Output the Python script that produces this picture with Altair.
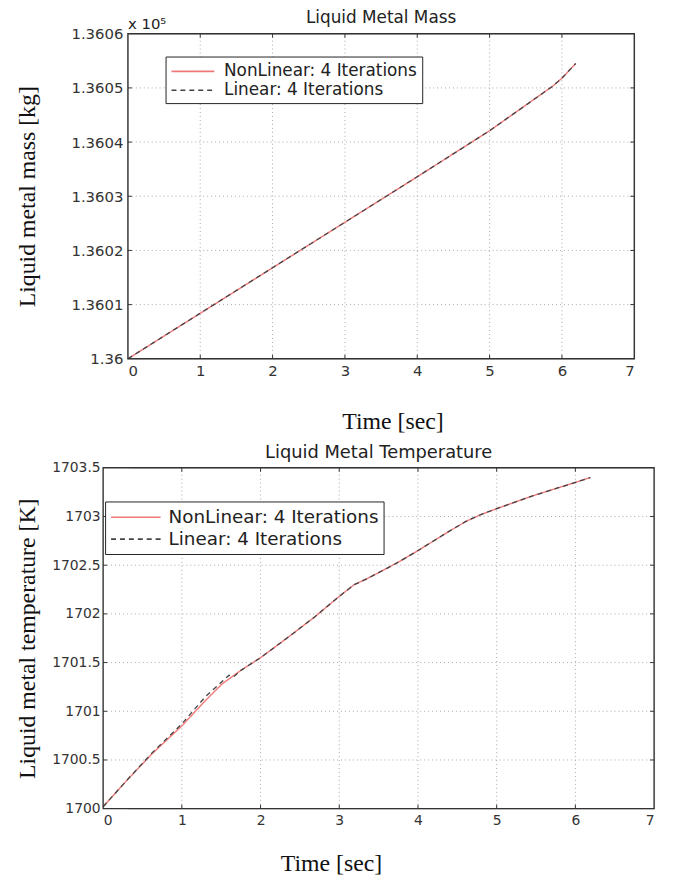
import altair as alt
import pandas as pd

series_names = ["NonLinear: 4 Iterations", "Linear: 4 Iterations"]
series_colors = ["#f07878", "#444444"]

# ---- Liquid metal mass (values in units of 10^5 kg) ----
mass_time = [0, 1, 2, 3, 4, 5, 5.87, 6.0, 6.19]
mass_nonlinear = [1.36000, 1.360084, 1.360168, 1.360252, 1.360336, 1.360421,
                  1.360503, 1.360518, 1.360545]
mass_linear = [1.36000, 1.360084, 1.360168, 1.360252, 1.360336, 1.360421,
               1.360503, 1.360518, 1.360545]
mass_ticks = [1.36, 1.3601, 1.3602, 1.3603, 1.3604, 1.3605, 1.3606]

# ---- Liquid metal temperature [K] ----
temp_time_nl = [0, 0.3, 0.63, 1.0, 1.3, 1.51, 1.75, 2.0, 2.35, 2.69, 3.0, 3.19,
                3.35, 3.61, 3.77, 4.0, 4.4, 4.61, 4.8, 5.0, 5.45, 6.0, 6.19]
temp_nonlinear = [1700.02, 1700.29, 1700.57, 1700.85, 1701.11, 1701.28, 1701.42,
                  1701.55, 1701.76, 1701.97, 1702.18, 1702.30, 1702.36, 1702.47,
                  1702.54, 1702.65, 1702.85, 1702.95, 1703.02, 1703.08, 1703.21,
                  1703.35, 1703.40]
temp_time_lin = [0, 0.3, 0.63, 1.0, 1.3, 1.6, 1.66, 1.75, 2.0, 2.35, 2.69, 3.0, 3.19,
                 3.35, 3.61, 3.77, 4.0, 4.4, 4.61, 4.8, 5.0, 5.45, 6.0, 6.19]
temp_linear = [1700.02, 1700.29, 1700.58, 1700.87, 1701.15, 1701.37, 1701.355, 1701.42,
               1701.55, 1701.76, 1701.97, 1702.18, 1702.30, 1702.36, 1702.47,
               1702.54, 1702.65, 1702.85, 1702.95, 1703.02, 1703.08, 1703.21,
               1703.35, 1703.40]
temp_ticks = [1700, 1700.5, 1701, 1701.5, 1702, 1702.5, 1703, 1703.5]

time_ticks = [0, 1, 2, 3, 4, 5, 6, 7]

mass_df = pd.concat([
    pd.DataFrame({"t": mass_time, "v": mass_nonlinear, "series": series_names[0]}),
    pd.DataFrame({"t": mass_time, "v": mass_linear, "series": series_names[1]}),
])
temp_df = pd.concat([
    pd.DataFrame({"t": temp_time_nl, "v": temp_nonlinear, "series": series_names[0]}),
    pd.DataFrame({"t": temp_time_lin, "v": temp_linear, "series": series_names[1]}),
])

SANS = "DejaVu Sans"
SERIF = "Liberation Serif"
GRID = "#a8a8a8"
FRAME = "#333333"


def make_legend(lx, ly, font, unit, path, offset, rowpad):
    return alt.Legend(title=None, orient="none", legendX=lx, legendY=ly,
                      symbolType=path, symbolSize=unit * unit,
                      symbolStrokeWidth=1.6, labelFont=SANS, labelFontSize=font,
                      labelColor="#222", labelOffset=offset, labelLimit=500,
                      rowPadding=rowpad, padding=5, strokeColor="#222",
                      fillColor="white")


def panel(df, title, title_size, title_x, title_y, ytitle, ydomain, yticks, yfmt,
          width, x_range, height, tick_size, y_offset, ytitle_x, xtitle_x,
          xtitle_y, xtitle_size, legend, label_pad_y, extra=None):
    xaxis = alt.Axis(values=time_ticks, format="d", grid=False, tickSize=0,
                     labelPadding=5, labelFont=SANS, labelFontSize=tick_size,
                     labelColor="#333", domain=False, title="Time [sec]",
                     titleFont=SERIF, titleFontSize=xtitle_size,
                     titleFontWeight="normal", titleColor="#111", titleX=xtitle_x,
                     titleY=xtitle_y, titleAlign="center", titleBaseline="middle")
    yaxis = alt.Axis(values=yticks, format=yfmt, grid=False, tickSize=0,
                     offset=y_offset, labelPadding=label_pad_y, labelFont=SANS,
                     labelFontSize=tick_size, labelColor="#333", domain=False,
                     title=ytitle, titleFont=SERIF, titleFontSize=24,
                     titleFontWeight="normal", titleColor="#111", titleX=ytitle_x,
                     titleY=height / 2, titleAngle=270, titleAlign="center",
                     titleBaseline="middle")
    color = alt.Color("series:N",
                      scale=alt.Scale(domain=series_names, range=series_colors),
                      legend=legend)
    dash = alt.StrokeDash("series:N",
                          scale=alt.Scale(domain=series_names, range=[[1, 0], [5, 4]]),
                          legend=legend)
    xscale = alt.Scale(domain=[0, 7], nice=False, zero=False, range=x_range)
    yscale = alt.Scale(domain=ydomain, nice=False, zero=False)
    x = alt.X("t:Q", scale=xscale, axis=xaxis)
    y = alt.Y("v:Q", scale=yscale, axis=yaxis)
    x0, x1 = x_range

    inner_y = pd.DataFrame({"v": yticks[1:-1]})
    inner_x = pd.DataFrame({"t": time_ticks[1:-1]})

    # white cover for the cell edge when the plot frame is shifted left of it
    cover = alt.Chart(pd.DataFrame({"a": [0]})).mark_rule(
        color="white", strokeWidth=2.5
    ).encode(x=alt.value(0), y=alt.value(0), y2=alt.value(height))

    ygrid = alt.Chart(inner_y).mark_rule(
        color=GRID, strokeWidth=1, strokeDash=[1, 3]
    ).encode(y=y, x=alt.datum(0), x2=alt.datum(7))
    xgrid = alt.Chart(inner_x).mark_rule(
        color=GRID, strokeWidth=1, strokeDash=[1, 3]
    ).encode(x=x, y=alt.datum(ydomain[0]), y2=alt.datum(ydomain[1]))

    # short inward tick marks on all four sides
    tick_style = dict(color=FRAME, strokeWidth=1)
    xt_bottom = alt.Chart(inner_x).mark_rule(**tick_style).encode(
        x=x, y=alt.value(height), y2=alt.value(height - 4))
    xt_top = alt.Chart(inner_x).mark_rule(**tick_style).encode(
        x=x, y=alt.value(0), y2=alt.value(4))
    yt_left = alt.Chart(inner_y).mark_rule(**tick_style).encode(
        y=y, x=alt.value(x0), x2=alt.value(x0 + 4))
    yt_right = alt.Chart(inner_y).mark_rule(**tick_style).encode(
        y=y, x=alt.value(x1 - 4), x2=alt.value(x1))

    frame = alt.Chart(pd.DataFrame({"a": [0]})).mark_rect(
        fillOpacity=0, stroke=FRAME, strokeWidth=1.4
    ).encode(x=alt.datum(0), x2=alt.datum(7), y=alt.datum(ydomain[0]),
             y2=alt.datum(ydomain[1]))

    base = alt.Chart(df)
    red = base.transform_filter(alt.datum.series == series_names[0]).mark_line(
        strokeWidth=1.4).encode(x=x, y=y, color=color, strokeDash=dash)
    blk = base.transform_filter(alt.datum.series == series_names[1]).mark_line(
        strokeWidth=1.3).encode(x=x, y=y, color=color, strokeDash=dash)

    ttl = alt.Chart(pd.DataFrame({"txt": [title]})).mark_text(
        align="center", baseline="middle", font=SANS, fontSize=title_size,
        color="#222"
    ).encode(x=alt.value(title_x), y=alt.value(title_y), text="txt:N")

    layers = ([cover] if x0 < 0 else []) + [ygrid, xgrid, xt_bottom, xt_top,
                                             yt_left, yt_right, red, blk, frame, ttl]
    if extra is not None:
        layers.append(extra)
    return alt.layer(*layers).properties(width=width, height=height)


exp_label = alt.Chart(pd.DataFrame({"lbl": ["x 10\u2075"]})).mark_text(
    align="left", baseline="middle", font=SANS, fontSize=15, color="#222"
).encode(x=alt.value(0), y=alt.value(-10), text="lbl:N")

top_legend = make_legend(38, 23, 17, 18, "M-1,0H3.8", 34, 1)
top = panel(mass_df, "Liquid Metal Mass", 17, 255.5, -16, "Liquid metal mass [kg]",
            [1.36, 1.3606], mass_ticks, ".5~g", 511, [0, 511], 328, 15, 0, -101,
            267, 63, 24, top_legend, 5, extra=exp_label)

bottom_legend = make_legend(-23, 34, 18.5, 20, "M-1,0H4", 37, 1)
bottom = panel(temp_df, "Liquid Metal Temperature", 18, 253, -15,
               "Liquid metal temperature [K]", [1700, 1703.5], temp_ticks, "~g",
               531, [-25, 531], 344, 14, 25, -76, 205, 55, 24, bottom_legend, 3)

chart = alt.vconcat(top, bottom, spacing=9).resolve_scale(
    color="independent", strokeDash="independent"
).resolve_legend(
    color="independent", strokeDash="independent"
).properties(
    padding={"left": 7, "top": -4, "right": -15, "bottom": 0}
).configure_view(stroke="transparent", strokeWidth=0).configure(background="white")

chart.save("out.html", embed_options={"renderer": "svg", "actions": False})
